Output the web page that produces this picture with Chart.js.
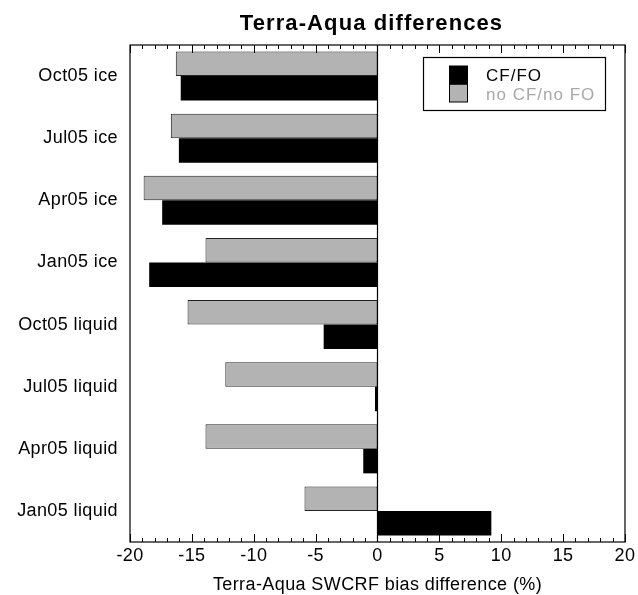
<!DOCTYPE html>
<html><head><meta charset="utf-8">
<script src="https://cdn.jsdelivr.net/npm/chart.js@4/dist/chart.umd.min.js"></script>
<style>html,body{margin:0;padding:0;background:#fff}#wrap{width:638px;height:595px}</style>
</head><body><div id="wrap"><canvas id="c" width="638" height="595"></canvas></div>
<script>
const categories = ['Oct05 ice','Jul05 ice','Apr05 ice','Jan05 ice','Oct05 liquid','Jul05 liquid','Apr05 liquid','Jan05 liquid'];
const cfFo = [-15.9, -16.05, -17.4, -18.45, -4.35, -0.2, -1.15, 9.2];
const noCfNoFo = [-16.3, -16.7, -18.9, -13.9, -15.35, -12.3, -13.9, -5.9];
const xTicks = [-20, -15, -10, -5, 0, 5, 10, 15, 20];
const seriesNames = ['CF/FO', 'no CF/no FO'];
const chartTitle = 'Terra-Aqua differences';
const xTitle = 'Terra-Aqua SWCRF bias difference (%)';

const FONT = "'Liberation Sans', Arial, Helvetica, sans-serif";
const GREY = '#b3b3b3';

const spacingPlugin = {
  id: 'spacing',
  beforeDraw(chart) { chart.ctx.letterSpacing = '0.4px'; }
};

const framePlugin = {
  id: 'frame',
  afterDatasetsDraw(chart) {
    const {ctx, chartArea: a, scales: {x}} = chart;
    ctx.save();
    ctx.strokeStyle = '#000';
    ctx.lineWidth = 1.2;
    ctx.strokeRect(a.left, a.top, a.right - a.left, a.bottom - a.top);
    const z = x.getPixelForValue(0);
    ctx.beginPath(); ctx.moveTo(z, a.top); ctx.lineTo(z, a.bottom); ctx.stroke();
    ctx.lineWidth = 1;
    for (let v = xTicks[0]; v <= xTicks[xTicks.length - 1]; v++) {
      const px = Math.round(x.getPixelForValue(v)) + 0.5;
      const len = (v % 5 === 0) ? 8 : 4;
      ctx.beginPath();
      ctx.moveTo(px, a.bottom); ctx.lineTo(px, a.bottom - len);
      ctx.moveTo(px, a.top); ctx.lineTo(px, a.top + len);
      ctx.stroke();
    }
    ctx.restore();
  }
};

const titleLegendPlugin = {
  id: 'titleLegend',
  afterDraw(chart) {
    const {ctx, chartArea: a} = chart;
    ctx.save();
    ctx.letterSpacing = '1.1px';
    ctx.font = 'bold 22px ' + FONT;
    ctx.fillStyle = '#000';
    ctx.textAlign = 'center';
    ctx.textBaseline = 'alphabetic';
    ctx.fillText(chartTitle, (a.left + a.right) / 2 - 6, 30);

    // legend
    const bx = 423.5, by = 57.5, bw = 182, bh = 53;
    ctx.lineWidth = 1.2;
    ctx.strokeStyle = '#000';
    ctx.strokeRect(bx, by, bw, bh);
    const ds = chart.data.datasets;
    const black = ds[1], grey = ds[0];
    ctx.fillStyle = black.backgroundColor;
    ctx.fillRect(449.5, 66, 18, 18.3);
    ctx.fillStyle = grey.backgroundColor;
    ctx.fillRect(449.5, 84.3, 18, 17.7);
    ctx.lineWidth = 1;
    ctx.strokeRect(449.5, 66, 18, 36);
    ctx.beginPath(); ctx.moveTo(449.5, 84.3); ctx.lineTo(467.5, 84.3); ctx.stroke();
    ctx.letterSpacing = '1px';
    ctx.font = '17px ' + FONT;
    ctx.textAlign = 'left';
    ctx.fillStyle = '#000';
    ctx.fillText(black.label, 486, 81);
    ctx.fillStyle = '#a8a8a8';
    ctx.fillText(grey.label, 486, 100);
    ctx.restore();
  }
};

new Chart(document.getElementById('c'), {
  type: 'bar',
  data: {
    labels: categories,
    datasets: [
      { label: seriesNames[1], data: noCfNoFo, backgroundColor: GREY, borderColor: '#222', borderWidth: 1, borderSkipped: false },
      { label: seriesNames[0], data: cfFo, backgroundColor: '#000', borderColor: '#000', borderWidth: 0, borderSkipped: false }
    ]
  },
  options: {
    indexAxis: 'y',
    responsive: false,
    animation: false,
    layout: { padding: { top: 45, right: 11, left: 0, bottom: 0 } },
    datasets: { bar: { categoryPercentage: 0.79, barPercentage: 1 } },
    plugins: { legend: { display: false }, title: { display: false }, tooltip: { enabled: false } },
    scales: {
      x: {
        type: 'linear', min: -20, max: 20,
        afterBuildTicks(s) { s.ticks = xTicks.map(v => ({ value: v })); },
        afterFit(s) { s.height = 53; },
        grid: { display: false, drawTicks: false },
        border: { display: false },
        ticks: { color: '#000', padding: 3, font: { family: FONT, size: 18 }, maxRotation: 0 },
        title: { display: true, text: xTitle, color: '#000', padding: 0, font: { family: FONT, size: 18, lineHeight: 1.1 } }
      },
      y: {
        type: 'category',
        afterFit(s) { s.width = 130; },
        grid: { display: false, drawTicks: false },
        border: { display: false },
        ticks: { color: '#000', padding: 12, font: { family: FONT, size: 18 } }
      }
    }
  },
  plugins: [spacingPlugin, framePlugin, titleLegendPlugin]
});
</script>
</body></html>
